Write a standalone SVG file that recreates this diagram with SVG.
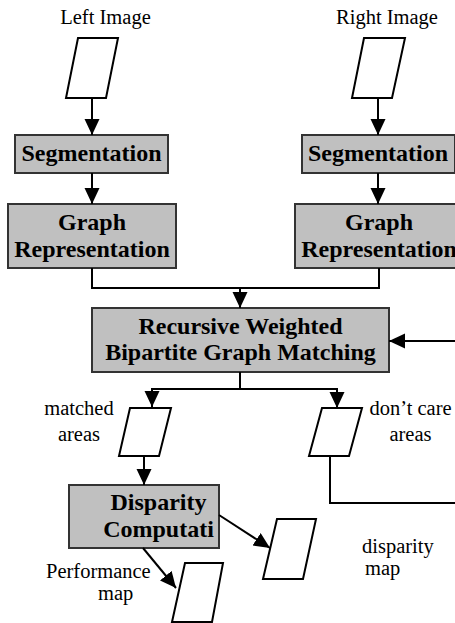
<svg xmlns="http://www.w3.org/2000/svg" width="455" height="623" viewBox="0 0 455 623">
<defs>
<marker id="ah" markerUnits="userSpaceOnUse" markerWidth="17" markerHeight="16" refX="16" refY="7.5" orient="auto">
<path d="M0,0 L16,7.5 L0,15 z" fill="#000"/>
</marker>
<style>
.box{fill:#c0c0c0;stroke:#333;stroke-width:2}
.io{fill:#fff;stroke:#000;stroke-width:2}
.b{font-family:"Liberation Serif",serif;font-weight:bold;font-size:24px;fill:#000;text-anchor:middle}
.t{font-family:"Liberation Serif",serif;font-size:20.5px;fill:#000}
.c{fill:none;stroke:#000;stroke-width:2}
</style>
</defs>
<rect width="455" height="623" fill="#fff"/>
<g id="leftImage">
<text class="t" x="105.5" y="24" text-anchor="middle">Left Image</text>
<polygon class="io" points="78,38 118,38 106,98 66,98"/>
</g>
<g id="rightImage">
<text class="t" x="387" y="24" text-anchor="middle">Right Image</text>
<polygon class="io" points="364,38 405,38 392,98 352,98"/>
</g>
<g id="segLeft">
<rect class="box" x="15" y="135" width="153" height="38"/>
<text class="b" x="91.5" y="161">Segmentation</text>
</g>
<g id="segRight">
<rect class="box" x="302" y="135" width="153" height="38"/>
<text class="b" x="378" y="161">Segmentation</text>
</g>
<g id="graphLeft">
<rect class="box" x="8" y="204" width="168" height="64"/>
<text class="b" x="92" y="230">Graph</text>
<text class="b" x="92" y="257">Representation</text>
</g>
<g id="graphRight">
<rect class="box" x="295" y="204" width="168" height="64"/>
<text class="b" x="379" y="230">Graph</text>
<text class="b" x="379" y="257">Representation</text>
</g>
<g id="matching">
<rect class="box" x="92" y="308" width="297" height="64"/>
<text class="b" x="240.5" y="334">Recursive Weighted</text>
<text class="b" x="240.5" y="360">Bipartite Graph Matching</text>
</g>
<g id="matched">
<polygon class="io" points="130,408 171,408 159,456 119,456"/>
<text class="t" x="79" y="415" text-anchor="middle">matched</text>
<text class="t" x="79" y="441" text-anchor="middle">areas</text>
</g>
<g id="dontcare">
<polygon class="io" points="322,408 362,408 349,456 309,456"/>
<text class="t" x="410.5" y="415" text-anchor="middle">don’t care</text>
<text class="t" x="410.5" y="441" text-anchor="middle">areas</text>
</g>
<g id="disparity">
<rect class="box" x="69" y="485" width="150" height="63"/>
<text class="b" x="158.5" y="510">Disparity</text>
<text class="b" x="158.5" y="537">Computati</text>
</g>
<g id="disparityMap">
<polygon class="io" points="277,519 316,519 303,579 263,579"/>
<text class="t" x="362" y="553">disparity</text>
<text class="t" x="365" y="575">map</text>
</g>
<g id="performanceMap">
<polygon class="io" points="185,563 223,563 212,622 172,622"/>
<text class="t" x="46" y="578">Performance</text>
<text class="t" x="98" y="600">map</text>
</g>
<g id="connectors">
<path class="c" d="M92,98 V135" marker-end="url(#ah)"/>
<path class="c" d="M378,98 V135" marker-end="url(#ah)"/>
<path class="c" d="M92,173 V204" marker-end="url(#ah)"/>
<path class="c" d="M378,173 V204" marker-end="url(#ah)"/>
<path class="c" d="M92,268 V288 H240 V308" marker-end="url(#ah)"/>
<path class="c" d="M379,268 V288 H240"/>
<path class="c" d="M240,372 V389 H152 V407" marker-end="url(#ah)"/>
<path class="c" d="M240,389 H337 V408" marker-end="url(#ah)"/>
<path class="c" d="M330,456 V503 H475 V341 H389" marker-end="url(#ah)"/>
<path class="c" d="M144,456 V485" marker-end="url(#ah)"/>
<path class="c" d="M219,515 L270,548" marker-end="url(#ah)"/>
<path class="c" d="M143,548 L176,588" marker-end="url(#ah)"/>
</g>
</svg>
